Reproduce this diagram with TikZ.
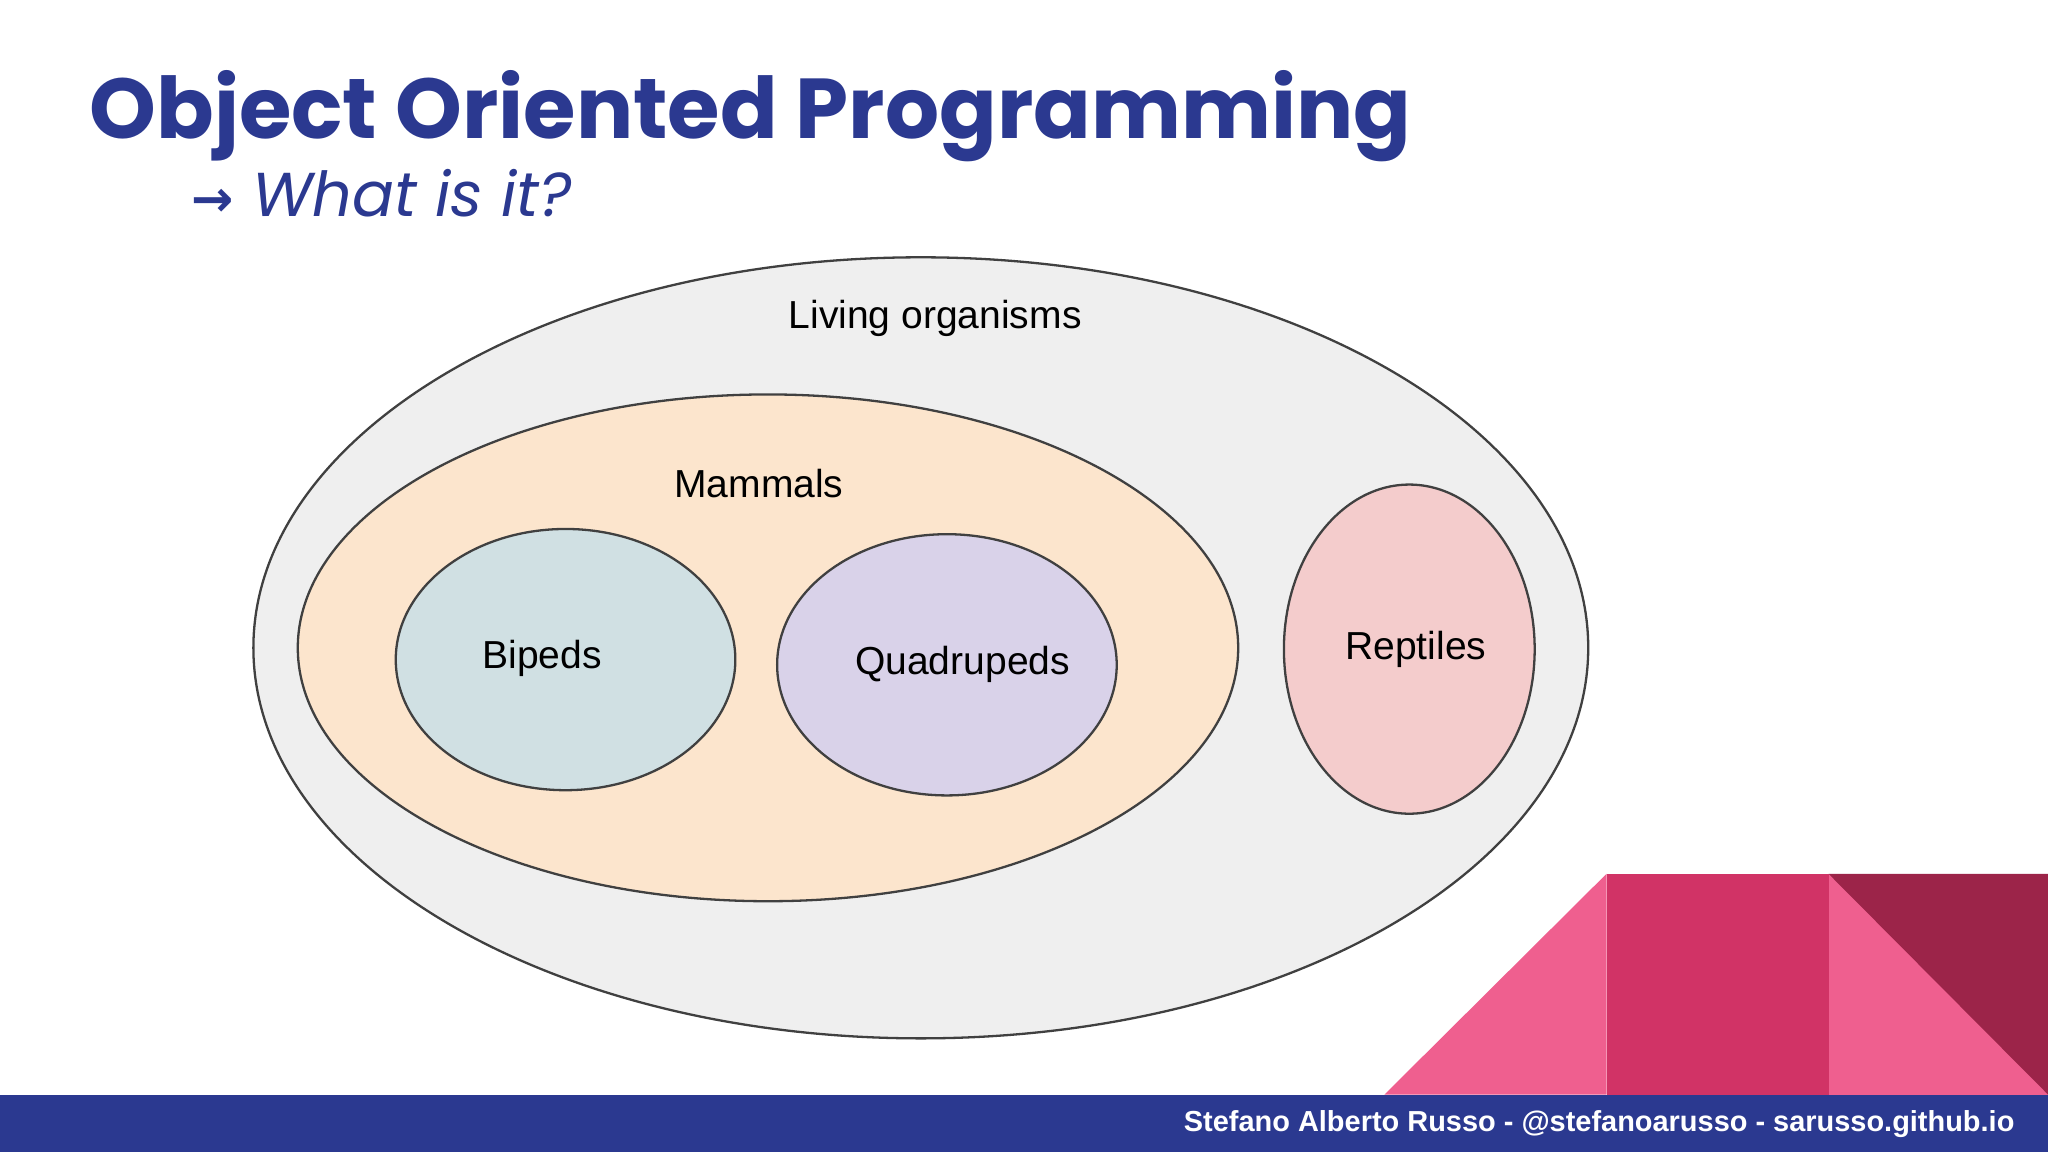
\documentclass[tikz,border=0pt]{standalone}
\usepackage{fontspec}
\setmainfont{Liberation Sans}
\newfontfamily\titlefont{Poppins}
\usepackage{tikz}
\usetikzlibrary{positioning}
\definecolor{navy}{HTML}{2B3990}
\definecolor{livingfill}{HTML}{EFEFEF}
\definecolor{mammalfill}{HTML}{FCE5CD}
\definecolor{bipedfill}{HTML}{D0E0E3}
\definecolor{quadfill}{HTML}{D9D2E9}
\definecolor{reptfill}{HTML}{F4CCCC}
\definecolor{pinklight}{HTML}{EF5F8F}
\definecolor{pinkmid}{HTML}{D13366}
\definecolor{pinkdark}{HTML}{9C2449}

\begin{document}
\begin{tikzpicture}[
    x=0.01cm, y=-0.01cm,
    setline/.style={draw=black!75, line width=0.5pt},
    setlabel/.style={font=\fontsize{8.5}{10}\selectfont, inner sep=0pt}
]
    \useasboundingbox (0,0) rectangle (1568,882);
    \fill[white] (0,0) rectangle (1568,882);

    % title
    \node[anchor=base west, inner sep=0pt, text=navy, font=\titlefont\bfseries\fontsize{18.5}{22}\selectfont] (title) at (68,106) {Object Oriented Programming};
    \node[anchor=base west, inner sep=0pt, text=navy, font=\titlefont\itshape\fontsize{13.5}{15}\selectfont] (subtitle) at (146,166) {{\fontspec{DejaVu Sans}\fontsize{11}{12}\selectfont\bfseries →}\ What is it?};

    % sets
    \draw[setline, fill=livingfill] (705,496) ellipse [x radius=511, y radius=299];
    \draw[setline, fill=mammalfill] (588,496) ellipse [x radius=360, y radius=194];
    \draw[setline, fill=bipedfill] (433,505) ellipse [x radius=130, y radius=100];
    \draw[setline, fill=quadfill] (725,509) ellipse [x radius=130, y radius=100];
    \draw[setline, fill=reptfill] (1079,497) ellipse [x radius=96, y radius=126];

    \node[setlabel] (living) at (716,244) {Living organisms};
    \node[setlabel] (mammals) at (581,370) {Mammals};
    \node[setlabel] (bipeds) at (415,504) {Bipeds};
    \node[setlabel] (quads) at (737,509) {Quadrupeds};
    \node[setlabel] (reptiles) at (1084,497) {Reptiles};

    % corner decoration
    \fill[pinklight] (1060,838) -- (1230,669) -- (1230,838) -- cycle;
    \fill[pinkmid] (1230,669) rectangle (1400,838);
    \fill[pinklight] (1400,669) rectangle (1568,838);
    \fill[pinkdark] (1400,669) -- (1568,669) -- (1568,838) -- cycle;

    % footer
    \fill[navy] (0,838) rectangle (1568,882);
    \node[anchor=east, inner sep=0pt, text=white, font=\bfseries\fontsize{6.3}{7}\selectfont] (footer) at (1543,861) {Stefano Alberto Russo - @stefanoarusso - sarusso.github.io};
\end{tikzpicture}
\end{document}
